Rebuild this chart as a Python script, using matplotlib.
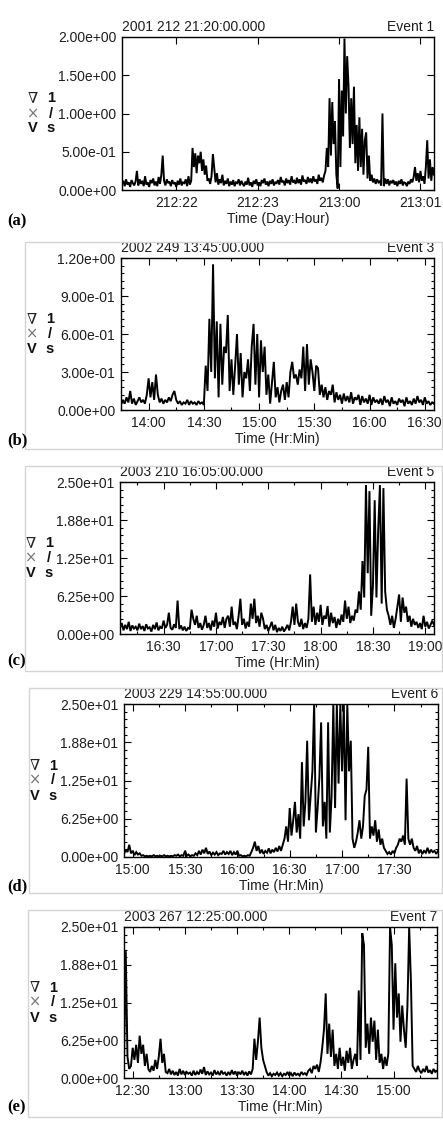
import numpy as np
import matplotlib
matplotlib.use("Agg")
import matplotlib.pyplot as plt
from matplotlib.patches import Rectangle
from matplotlib.ticker import FixedLocator, AutoMinorLocator, NullLocator

plt.rcParams["font.family"] = ["Liberation Sans", "DejaVu Sans"]

# --- data: curl |V| (1/s), one sample per minute from the start time ---
# Event 1, 2001 day 212, start 21:20
event1 = [
    .08, .12, .05, .14, .07, .10, .04, .13, .09, .06,
    .11, .25, .06, .14, .08, .12, .05, .18, .07, .10,
    .04, .13, .09, .15, .06, .11, .05, .17, .08, .20,
    .45, .12, .06, .14, .09, .11, .05, .13, .08, .10,
    .04, .12, .07, .15, .06, .10, .09, .14, .05, .18,
    .07, .12, .55, .30, .48, .22, .45, .35, .50, .25,
    .40, .20, .32, .12, .15, .08, .18, .47, .28, .10,
    .22, .07, .14, .09, .20, .06, .12, .08, .15, .05,
    .11, .07, .13, .05, .10, .09, .14, .06, .12, .08,
    .05, .11, .07, .16, .06, .10, .04, .12, .08, .14,
    .06, .10, .05, .13, .09, .15, .07, .11, .05, .12,
    .08, .14, .06, .10, .09, .13, .07, .17, .10, .12,
    .06, .15, .09, .13, .07, .18, .10, .12, .08, .16,
    .09, .14, .07, .19, .11, .13, .08, .17, .10, .15,
    .09, .18, .11, .14, .08, .20, .12, .16, .10, .19,
    .25, .55, .30, 1.20, .45, 1.15, .60, .90, .20, .02,
    1.45, .30, 1.30, .70, 1.98, 1.00, 1.75, 1.35, .55, 1.20,
    .60, 1.35, .35, .85, .25, .95, .30, .80, .20, .65,
    .75, .15, .45, .12, .20, .10, .15, .08, .14, .10,
    .12, .06, 1.00, .05, .15, .08, .14, .06, .12, .09,
    .13, .07, .11, .05, .12, .08, .14, .06, .10, .09,
    .05, .11, .08, .14, .10, .17, .30, .12, .22, .10,
    .25, .12, .18, .08, .30, .65, .15, .40, .12, .30,
    .20,
]

# Event 3, 2002 day 249, start 13:45
event3 = [
    .04, .08, .05, .10, .06, .15, .05, .09, .04, .07,
    .10, .06, .08, .05, .12, .25, .10, .22, .08, .28,
    .12, .06, .09, .05, .08, .06, .10, .07, .12, .15,
    .08, .05, .07, .04, .06, .05, .08, .04, .07, .05,
    .06, .04, .07, .05, .06, .04, .35, .15, .72, .30,
    1.15, .25, .70, .10, .68, .20, .50, .45, .75, .15,
    .40, .12, .35, .60, .20, .45, .10, .30, .25, .40,
    .15, .50, .68, .20, .60, .10, .55, .30, .50, .12,
    .28, .05, .22, .38, .10, .18, .06, .15, .20, .08,
    .22, .10, .30, .38, .25, .28, .20, .32, .25, .50,
    .15, .52, .20, .40, .30, .15, .35, .33, .12, .20,
    .10, .18, .08, .15, .12, .20, .06, .14, .08, .12,
    .05, .13, .07, .11, .06, .14, .05, .10, .08, .12,
    .04, .11, .06, .09, .05, .12, .04, .10, .06, .08,
    .05, .09, .04, .11, .06, .08, .03, .10, .05, .07,
    .04, .09, .06, .08, .03, .10, .05, .07, .04, .09,
    .05, .11, .06, .08, .04, .10, .05, .07, .04, .06,
    .05,
]

# Event 5, 2003 day 210, start 16:05
event5 = [
    1.0, 1.8, .6, 1.5, .8, 2.0, .5, 1.4, .9, 1.2,
    .6, 1.7, .8, 1.3, .5, 1.6, .9, 1.1, .4, 1.5,
    .8, 1.9, .6, 1.2, .9, 2.2, 1.0, 1.5, 3.5, 1.0,
    .7, 1.6, 1.0, 5.5, .8, 1.4, .6, 1.2, .5, 1.0,
    .8, 4.0, 2.5, 1.5, 3.0, 1.0, 1.8, .7, 1.5, 3.0,
    1.0, 1.8, .6, 2.2, 1.2, 3.5, .9, 2.0, 1.5, 2.8,
    1.0, 2.5, 3.0, 1.2, 4.5, 1.5, 2.0, .8, 3.0, 5.8,
    1.5, 2.5, .9, 2.0, 1.2, 5.0, 2.5, 5.8, 1.8, 3.0,
    1.2, 3.5, 2.5, .8, 1.5, .5, 1.2, 2.0, .6, 1.5,
    .3, 1.0, .5, 1.2, .4, .9, 1.5, .6, 2.0, 4.5,
    1.5, 5.0, 2.0, 1.2, 2.5, .8, 1.8, 1.0, 2.5, 9.8,
    2.0, 4.5, 1.5, 3.5, 2.0, 4.8, 1.5, 3.0, 2.5, 4.6,
    1.2, 3.5, 1.8, 2.8, 1.0, 2.5, 1.5, 3.2, 2.0, 5.5,
    2.5, 4.5, 1.8, 3.0, 2.2, 4.0, 3.5, 7.0, 4.0, 12.0,
    6.0, 24.5, 10.0, 23.5, 3.0, 8.0, 22.0, 6.0, 17.0, 24.5,
    5.0, 24.0, 7.0, 4.0, 3.0, 1.5, 3.0, 1.0, 2.5, 4.5,
    6.5, 2.0, 6.0, 3.5, 4.5, 2.0, 3.0, 1.2, 2.5, 1.5,
    2.0, 1.0, 1.8, .8, 3.0, 1.2, 2.0, .9, 1.5, 2.2,
    1.5,
]

# Event 6, 2003 day 229, start 14:55
event6 = [
    .5, 1.2, .8, 2.0, .6, 1.0, .3, .8, .4, .6,
    .2, .3, .1, .2, .1, .2, .1, .3, .1, .2,
    .1, .2, .1, .3, .1, .2, .1, .2, .1, .3,
    .2, .4, .1, .3, .2, 1.0, .2, .4, .1, .3,
    .2, .6, .3, 1.0, .4, 1.2, .6, 1.5, .5, .9,
    .3, .7, .4, .8, .3, .6, .5, 1.0, .4, .8,
    .5, 1.0, .3, .8, .4, 1.0, .2, .3, .1, .2,
    .1, .3, .2, .8, 1.5, 2.5, 1.0, 1.8, .6, 1.2,
    .5, 1.0, .7, 1.4, .6, 1.2, .8, 1.5, .9, 1.8,
    1.0, 2.0, 3.0, 5.0, 2.5, 8.0, 3.5, 6.0, 9.0, 4.0,
    7.0, 3.0, 15.5, 5.0, 9.0, 19.0, 6.0, 10.0, 14.0, 25.0,
    4.0, 8.0, 13.0, 22.0, 5.0, 9.0, 3.0, 22.0, 4.0, 10.0,
    25.0, 8.0, 25.0, 12.0, 25.0, 14.0, 25.0, 6.0, 25.0, 14.0,
    19.0, 3.0, 1.5, 2.5, 4.0, 6.0, 3.0, 5.0, 10.0, 11.0,
    18.0, 3.0, 5.0, 3.5, 6.0, 2.5, 4.5, 2.0, 3.0, 1.5,
    1.0, .5, .8, .4, 1.0, .6, 1.5, 2.0, 3.0, 2.5,
    3.5, 2.0, 12.8, 3.0, 2.0, 3.0, 1.5, 1.0, 1.8, .6,
    1.2, .5, 1.0, .7, 1.5, .6, 1.2, .8, 1.0, .5,
    1.0,
]

# Event 7, 2003 day 267, start 12:25
event7 = [
    3.0, 21.0, 3.5, 1.5, 2.0, 5.0, 3.0, 5.5, 2.5, 7.0,
    4.0, 5.5, 2.0, 4.0, 1.5, 1.0, 2.0, 1.2, 3.0, 1.5,
    3.5, 6.5, 2.5, 4.0, 1.0, .8, 1.5, .6, 1.2, .5,
    1.0, .4, 1.5, .6, 1.2, .5, 1.0, .7, .9, .4,
    1.2, .5, 1.0, .6, 1.4, .7, 1.8, .5, 1.1, .6,
    .9, .4, 1.3, .6, 1.0, .5, 1.2, .7, .9, .4,
    1.0, .5, 1.3, .6, 1.1, .4, 1.0, .6, 1.2, .5,
    1.0, .4, 1.1, .6, 1.5, 6.5, 3.0, 6.0, 10.0, 5.0,
    3.0, 2.0, 1.0, .4, .8, .3, .7, .5, .9, .4,
    .8, .3, .7, .5, 1.0, .4, .8, .3, .9, .5,
    .7, .4, 1.0, .6, .8, .5, 1.2, 1.5, .8, 2.0,
    1.5, 2.2, 1.0, 2.5, 5.0, 8.0, 14.0, 4.0, 9.0, 3.5,
    8.0, 2.0, 4.0, 1.5, 5.0, 2.0, 3.5, 1.2, 4.5, 2.5,
    5.0, 1.5, 3.0, 4.0, 2.0, 14.5, 3.0, 24.0, 22.0, 5.0,
    9.0, 4.0, 10.0, 6.0, 9.5, 3.0, 8.0, 2.5, 4.0, 1.5,
    3.5, 2.0, 4.0, 25.0, 22.0, 8.0, 19.0, 10.0, 14.0, 6.0,
    12.0, 8.0, 5.0, 12.0, 25.0, 16.0, 2.0, 1.5, 1.0, 2.0,
    1.2, .8, 1.5, 1.0, 2.0, .9, 1.3, .7, 1.5, 1.0,
    1.2,
]

series = [event1, event3, event5, event6, event7]
headers = ["2001 212 21:20:00.000", "2002 249 13:45:00.000", "2003 210 16:05:00.000",
           "2003 229 14:55:00.000", "2003 267 12:25:00.000"]
events = ["Event 1", "Event 3", "Event 5", "Event 6", "Event 7"]
panel_tags = ["(a)", "(b)", "(c)", "(d)", "(e)"]
xlabels = ["Time (Day:Hour)"] + ["Time (Hr:Min)"] * 4
y_max = [2.0, 1.2, 25.0, 25.0, 25.0]

# tick labels and the minute offset of each from the start time
tick_labels = [
    ["212:22", "212:23", "213:00", "213:01"],
    ["14:00", "14:30", "15:00", "15:30", "16:00", "16:30"],
    ["16:30", "17:00", "17:30", "18:00", "18:30", "19:00"],
    ["15:00", "15:30", "16:00", "16:30", "17:00", "17:30"],
    ["12:30", "13:00", "13:30", "14:00", "14:30", "15:00"],
]
tick_offsets = [
    [40, 100, 160, 220],
    [15, 45, 75, 105, 135, 165],
    [25, 55, 85, 115, 145, 175],
    [5, 35, 65, 95, 125, 155],
    [5, 35, 65, 95, 125, 155],
]
x_span = [230, 170, 180, 180, 180]

# --- layout (pixel boxes in the 443x1122 figure) ---
W, H = 443, 1122
axes_px = [  # left, right, top, bottom
    (122, 434, 37, 190),
    (121, 434, 258, 410),
    (120, 434, 482, 634),
    (124, 438, 704, 857),
    (124, 437, 927, 1078),
]
frames_px = [None, (25, 442, 242, 449), (25, 442, 466, 671),
             (29, 442, 688, 893), (28, 442, 910, 1117)]
tag_y = [221, 440, 661, 886, 1107]

TXT = "#1e1e1e"
fig = plt.figure(figsize=(W / 100, H / 100), dpi=100)

for i in range(5):
    l, r, t, b = axes_px[i]
    ax = fig.add_axes([l / W, 1 - b / H, (r - l) / W, (b - t) / H])
    vals = np.array(series[i])
    ax.plot(np.arange(len(vals)), vals, color="black", lw=1.4, solid_joinstyle="miter")

    ax.set_xlim(0, x_span[i])
    ax.set_ylim(0, y_max[i])
    ax.xaxis.set_major_locator(FixedLocator(tick_offsets[i]))
    ax.set_xticklabels(tick_labels[i])
    if i == 0:
        ax.xaxis.set_minor_locator(NullLocator())
        ax.yaxis.set_minor_locator(NullLocator())
    else:
        ax.xaxis.set_minor_locator(AutoMinorLocator(2))
        ax.yaxis.set_minor_locator(AutoMinorLocator(5))
    yt = np.linspace(0, y_max[i], 5)
    ax.set_yticks(yt)
    ax.set_yticklabels([f"{v:.2e}" for v in yt])

    ax.tick_params(which="both", direction="in", top=True, right=True,
                   labelsize=10, labelcolor=TXT, width=0.8)
    ax.tick_params(which="major", length=5, pad=4)
    ax.tick_params(which="minor", length=2.5)
    for s in ax.spines.values():
        s.set_linewidth(1.0)

    ax.set_xlabel(xlabels[i], fontsize=10, color=TXT, labelpad=2)
    ax.text(0, 1.02, headers[i], transform=ax.transAxes, ha="left", va="bottom",
            fontsize=10, color=TXT)
    ax.text(1, 1.02, events[i], transform=ax.transAxes, ha="right", va="bottom",
            fontsize=10, color=TXT)

    # stacked unit label: curl V, 1/s
    stack = [("\u2207", -89, 15, "normal", "#222222", ["DejaVu Serif"]),
             ("\u00d7", -89, 0, "normal", "#777777", ["DejaVu Sans"]),
             ("V", -89, -15, "bold", "#111111", ["Liberation Sans"]),
             ("1", -71, 15, "bold", "#111111", ["Liberation Sans"]),
             ("/", -71, 0, "bold", "#111111", ["Liberation Sans"]),
             ("s", -71, -15, "bold", "#111111", ["Liberation Sans"])]
    for ch, dx, dy, wt, col, fam in stack:
        ax.annotate(ch, xy=(0, 0.5), xycoords="axes fraction", xytext=(dx, dy),
                    textcoords="offset pixels", ha="center", va="center",
                    fontsize=10.5, fontweight=wt, color=col, family=fam)

    fig.text(7 / W, 1 - tag_y[i] / H, panel_tags[i], ha="left", va="center",
             fontsize=12, fontweight="bold", family=["Liberation Serif", "DejaVu Serif"])

    if frames_px[i] is not None:
        fl, fr, ft, fb = frames_px[i]
        fig.patches.append(Rectangle((fl / W, 1 - fb / H), (fr - fl) / W, (fb - ft) / H,
                                     transform=fig.transFigure, fill=False,
                                     edgecolor="#d4d4d4", lw=1.0, zorder=0))

fig.savefig("out.png", dpi=100)
